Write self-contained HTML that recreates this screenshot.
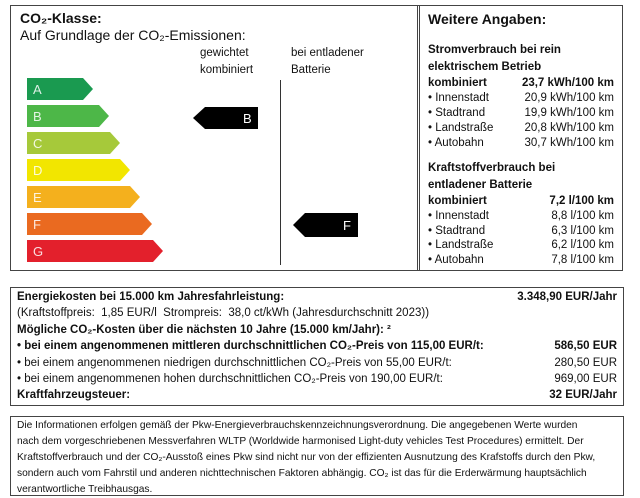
<!DOCTYPE html>
<html><head><meta charset="utf-8"><style>
*{margin:0;padding:0;box-sizing:border-box}
body{width:640px;height:480px;background:#fff;position:relative;overflow:hidden;font-family:"Liberation Sans",sans-serif;color:#111}
.a{position:absolute;white-space:nowrap}
.b{font-weight:bold}
.box{position:absolute;border:1.5px solid #444}
</style></head><body>
<div class="box" style="left:10px;top:5px;width:410px;height:266px"></div>
<div class="box" style="left:417px;top:5px;width:206px;height:266px;border-left:3px double #444"></div>
<div class="a b" style="left:20px;top:10px;font-size:14px">CO₂-Klasse:</div>
<div class="a" style="left:20px;top:27px;font-size:14px">Auf Grundlage der CO₂-Emissionen:</div>
<div class="a" style="left:200px;top:45px;font-size:11.5px;line-height:17px">gewichtet<br>kombiniert</div>
<div class="a" style="left:291px;top:45px;font-size:11.5px;line-height:17px">bei entladener<br>Batterie</div>
<div class="a" style="left:280px;top:80px;width:1px;height:185px;background:#333"></div>
<svg class="a" style="left:0;top:0" width="420" height="270">
<polygon points="27,78 83,78 93,89 83,100 27,100" fill="#1a9a50"/>
<polygon points="27,105 99,105 109,116 99,127 27,127" fill="#4db748"/>
<polygon points="27,132 110,132 120,143 110,154 27,154" fill="#a6c93a"/>
<polygon points="27,159 120,159 130,170 120,181 27,181" fill="#f2e600"/>
<polygon points="27,186 130,186 140,197 130,208 27,208" fill="#f4b01d"/>
<polygon points="27,213 142,213 152,224 142,235 27,235" fill="#ea6a20"/>
<polygon points="27,240 153,240 163,251 153,262 27,262" fill="#e3202c"/>
<polygon points="193,118 205,107 258,107 258,129 205,129" fill="#000"/>
<polygon points="293,225 305,213 358,213 358,237 305,237" fill="#000"/>
<g font-family="Liberation Sans" font-size="13" fill="rgba(255,255,255,0.85)">
<text x="33" y="94">A</text><text x="33" y="121">B</text><text x="33" y="148">C</text><text x="33" y="175">D</text><text x="33" y="202">E</text><text x="33" y="229">F</text><text x="33" y="256">G</text></g>
<text x="243" y="123" font-family="Liberation Sans" font-size="13" fill="#fff">B</text>
<text x="343" y="230" font-family="Liberation Sans" font-size="13" fill="#fff">F</text>
</svg>
<div class="a b" style="left:428px;top:11px;font-size:14px">Weitere Angaben:</div>
<div class="a b" style="left:428px;top:42px;font-size:11.5px;line-height:17px">Stromverbrauch bei rein<br>elektrischem Betrieb</div>
<div class="a" style="left:428px;top:76px;width:186px;font-size:11.5px;line-height:15px">
<div style="display:flex;justify-content:space-between" class="b"><span>kombiniert</span><span>23,7 kWh/100 km</span></div>
<div style="display:flex;justify-content:space-between"><span>• Innenstadt</span><span>20,9 kWh/100 km</span></div>
<div style="display:flex;justify-content:space-between"><span>• Stadtrand</span><span>19,9 kWh/100 km</span></div>
<div style="display:flex;justify-content:space-between"><span>• Landstraße</span><span>20,8 kWh/100 km</span></div>
<div style="display:flex;justify-content:space-between"><span>• Autobahn</span><span>30,7 kWh/100 km</span></div>
</div>
<div class="a b" style="left:428px;top:160px;font-size:11.5px;line-height:17px">Kraftstoffverbrauch bei<br>entladener Batterie</div>
<div class="a" style="left:428px;top:194px;width:186px;font-size:11.5px;line-height:14.8px">
<div style="display:flex;justify-content:space-between" class="b"><span>kombiniert</span><span>7,2 l/100 km</span></div>
<div style="display:flex;justify-content:space-between"><span>• Innenstadt</span><span>8,8 l/100 km</span></div>
<div style="display:flex;justify-content:space-between"><span>• Stadtrand</span><span>6,3 l/100 km</span></div>
<div style="display:flex;justify-content:space-between"><span>• Landstraße</span><span>6,2 l/100 km</span></div>
<div style="display:flex;justify-content:space-between"><span>• Autobahn</span><span>7,8 l/100 km</span></div>
</div>
<div class="box" style="left:10px;top:287px;width:614px;height:119px"></div>
<div class="a" style="left:17px;top:289px;width:600px;font-size:11.5px;line-height:16.4px">
<div style="display:flex;justify-content:space-between" class="b"><span>Energiekosten bei 15.000 km Jahresfahrleistung:</span><span>3.348,90 EUR/Jahr</span></div>
<div>(Kraftstoffpreis:&nbsp; 1,85 EUR/l&nbsp; Strompreis:&nbsp; 38,0 ct/kWh (Jahresdurchschnitt 2023))</div>
<div class="b">Mögliche CO₂-Kosten über die nächsten 10 Jahre (15.000 km/Jahr): ²</div>
<div style="display:flex;justify-content:space-between" class="b"><span>• bei einem angenommenen mittleren durchschnittlichen CO₂-Preis von 115,00 EUR/t:</span><span>586,50 EUR</span></div>
<div style="display:flex;justify-content:space-between"><span>• bei einem angenommenen niedrigen durchschnittlichen CO₂-Preis von 55,00 EUR/t:</span><span>280,50 EUR</span></div>
<div style="display:flex;justify-content:space-between"><span>• bei einem angenommenen hohen durchschnittlichen CO₂-Preis von 190,00 EUR/t:</span><span>969,00 EUR</span></div>
<div style="display:flex;justify-content:space-between" class="b"><span>Kraftfahrzeugsteuer:</span><span>32 EUR/Jahr</span></div>
</div>
<div class="box" style="left:10px;top:416px;width:614px;height:80px"></div>
<div class="a" style="left:17px;top:418px;width:604px;font-size:10.2px;line-height:16px">
<div>Die Informationen erfolgen gemäß der Pkw-Energieverbrauchskennzeichnungsverordnung. Die angegebenen Werte wurden</div>
<div>nach dem vorgeschriebenen Messverfahren WLTP (Worldwide harmonised Light-duty vehicles Test Procedures) ermittelt. Der</div>
<div>Kraftstoffverbrauch und der CO₂-Ausstoß eines Pkw sind nicht nur von der effizienten Ausnutzung des Krafstoffs durch den Pkw,</div>
<div>sondern auch vom Fahrstil und anderen nichttechnischen Faktoren abhängig. CO₂ ist das für die Erderwärmung hauptsächlich</div>
<div>verantwortliche Treibhausgas.</div>
</div>
</body></html>
